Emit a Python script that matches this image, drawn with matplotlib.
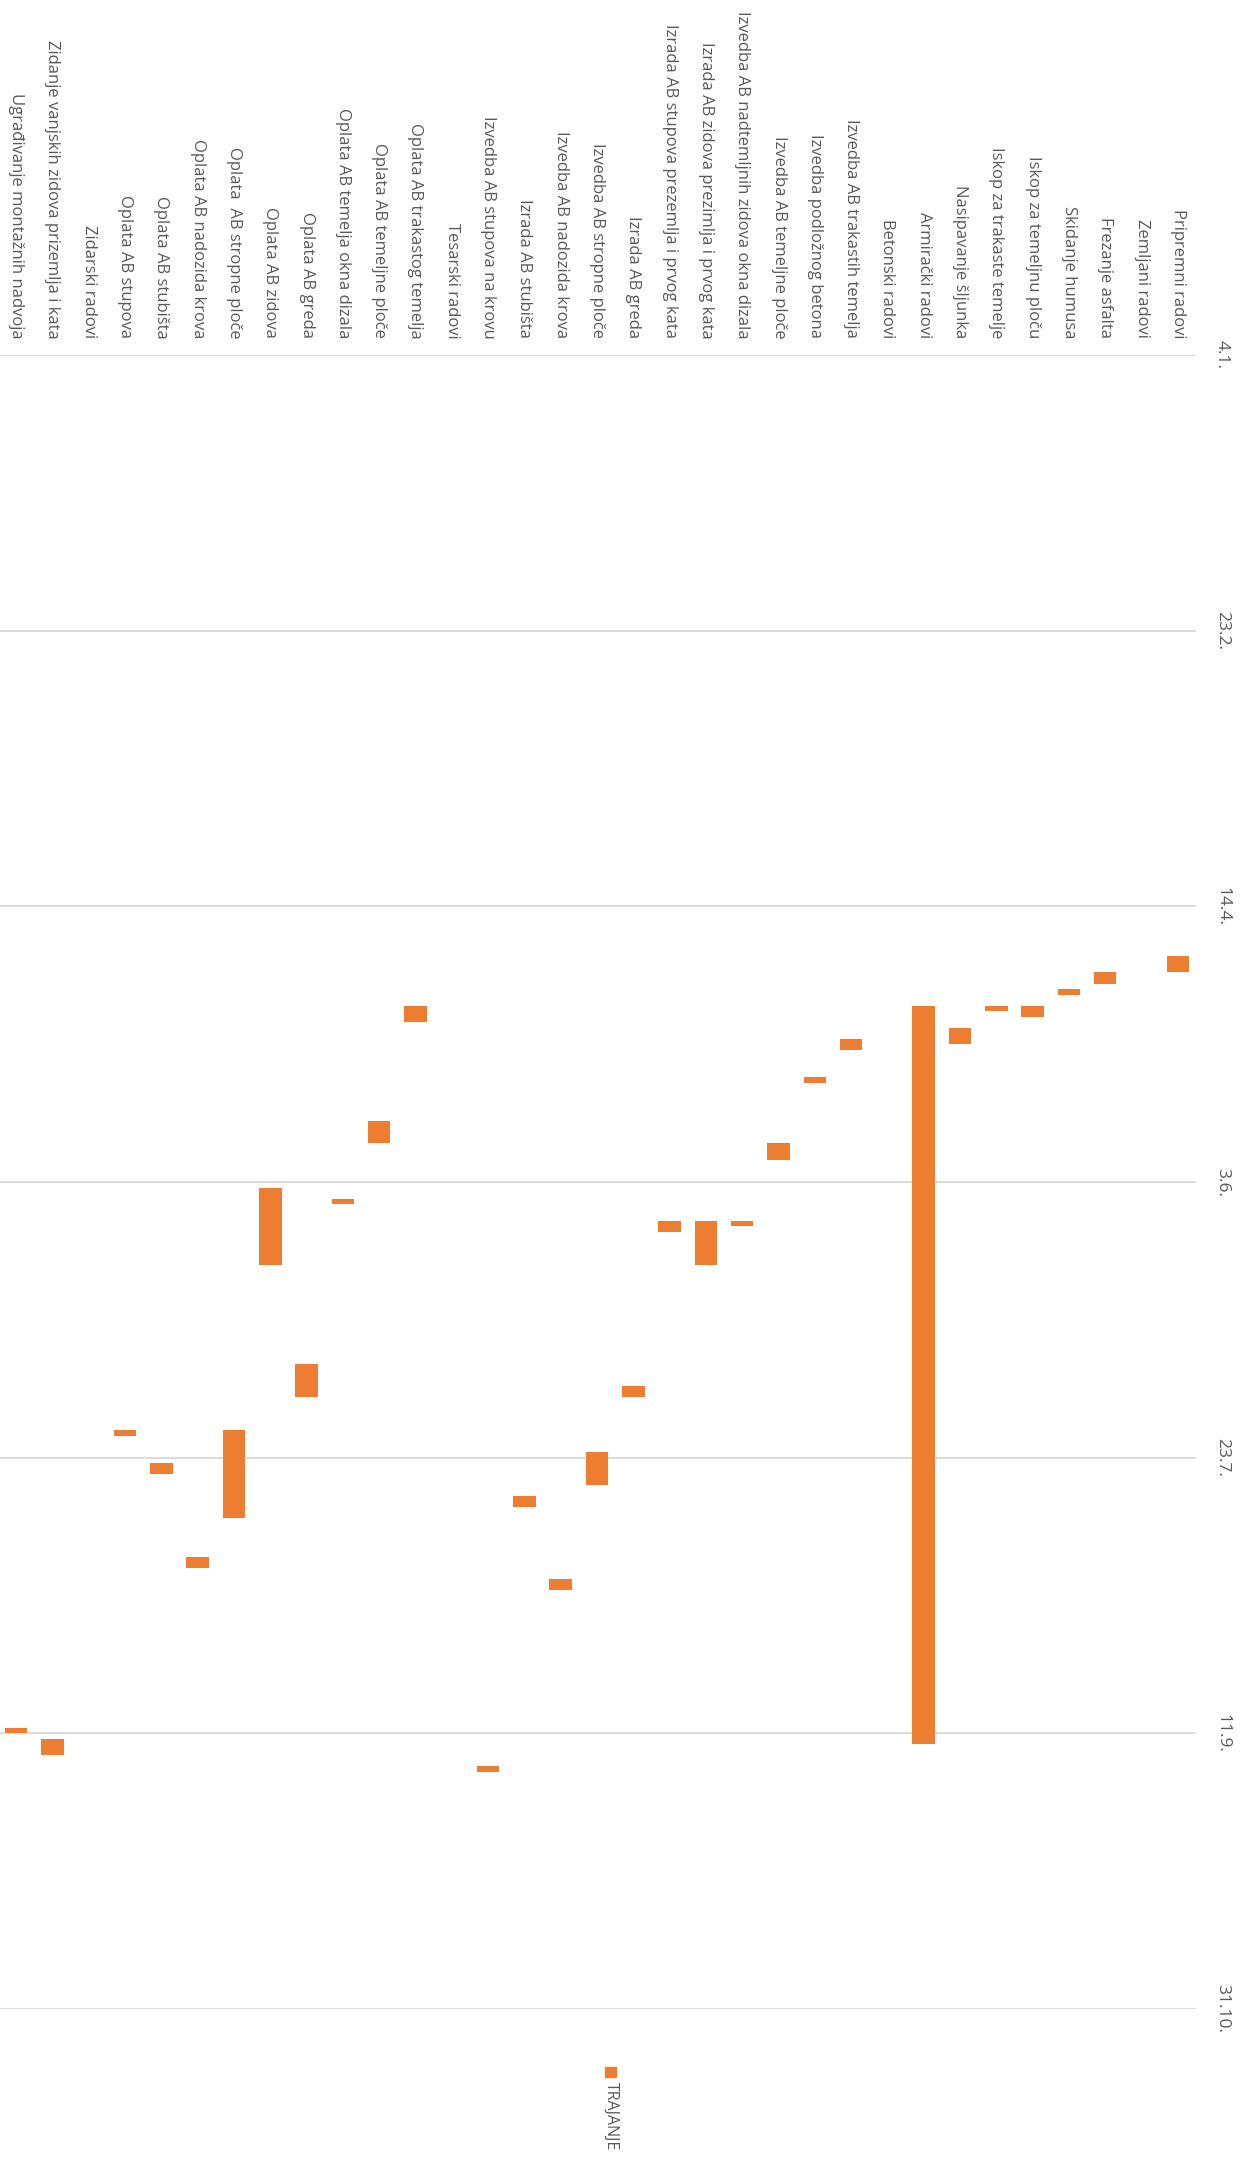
import matplotlib
matplotlib.use("Agg")
import matplotlib.pyplot as plt
import matplotlib.dates as mdates
import pandas as pd
from matplotlib.patches import Rectangle

plt.rcParams['font.family'] = ['Open Sans', 'DejaVu Sans']

# --- podaci (gantogram, redoslijed od vrha popisa) ---
aktivnosti = [
    "Pripremni radovi",
    "Zemljani radovi",
    "Frezanje asfalta",
    "Skidanje humusa",
    "Iskop za temeljnu ploču",
    "Iskop za trakaste temelje",
    "Nasipavanje šljunka",
    "Armirački radovi",
    "Betonski radovi",
    "Izvedba AB trakastih temelja",
    "Izvedba podložnog betona",
    "Izvedba AB temeljne ploče",
    "Izvedba AB nadtemljnih zidova okna dizala",
    "Izrada AB zidova prezimlja i prvog kata",
    "Izrada AB stupova prezemlja i prvog kata",
    "Izrada AB greda",
    "Izvedba AB stropne ploče",
    "Izvedba AB nadozida krova",
    "Izrada AB stubišta",
    "Izvedba AB stupova na krovu",
    "Tesarski radovi",
    "Oplata AB trakastog temelja",
    "Oplata AB temeljne ploče",
    "Oplata AB temelja okna dizala",
    "Oplata AB greda",
    "Oplata AB zidova",
    "Oplata  AB stropne ploče",
    "Oplata AB nadozida krova",
    "Oplata AB stubišta",
    "Oplata AB stupova",
    "Zidarski radovi",
    "Zidanje vanjskih zidova prizemlja i kata",
    "Ugrađivanje montažnih nadvoja",
]

pocetak = [
    "2021-04-23", None, "2021-04-26", "2021-04-29", "2021-05-02", "2021-05-02",
    "2021-05-06", "2021-05-02", None, "2021-05-08", "2021-05-15", "2021-05-27",
    "2021-06-10", "2021-06-10", "2021-06-10", "2021-07-10", "2021-07-22",
    "2021-08-14", "2021-07-30", "2021-09-17", None, "2021-05-02", "2021-05-23",
    "2021-06-06", "2021-07-06", "2021-06-04", "2021-07-18", "2021-08-10",
    "2021-07-24", "2021-07-18", None, "2021-09-12", "2021-09-10",
]

trajanje = [
    3, 0, 2, 1, 2, 1,
    3, 134, 0, 2, 1, 3,
    1, 8, 2, 2, 6,
    2, 2, 1, 0, 3, 4,
    1, 6, 14, 16, 2,
    2, 1, 0, 3, 1,
]

os_datumi = pd.date_range("2021-01-04", periods=7, freq="50D")

NARANCASTA = "#ED7D31"
SIVA = "#595959"

W, H = 1242, 2176
fig = plt.figure(figsize=(W / 100, H / 100), dpi=100)

# os u pikselima: lijevo -2, desno 1196, gore 355, dolje 2009
ax = fig.add_axes([-2 / W, (H - 2009) / H, 1198 / W, 1654 / H])

n = len(aktivnosti)
for k, (start, dur) in enumerate(zip(pocetak, trajanje)):
    if start is None:
        continue
    x = n - 1 - k
    ax.bar(x, dur, bottom=mdates.date2num(pd.Timestamp(start)),
           width=0.62, color=NARANCASTA, edgecolor="none", zorder=3)

ax.set_xlim(-0.5, n - 0.5)
ax.set_ylim(mdates.date2num(os_datumi[-1]), mdates.date2num(os_datumi[0]))

# kategorije na vrhu, tekst okrenut
ax.xaxis.tick_top()
ax.set_xticks(range(n), labels=aktivnosti[::-1], rotation=270,
              ha="center", va="bottom")
ax.tick_params(axis="x", length=0, pad=12, labelcolor=SIVA, labelsize=12)

# datumi desno
ax.yaxis.tick_right()
ax.set_yticks(mdates.date2num(os_datumi),
              labels=[f"{d.day}.{d.month}." for d in os_datumi],
              rotation=270, ha="left", va="center")
ax.tick_params(axis="y", length=0, pad=13, labelcolor=SIVA, labelsize=12.5)

ax.grid(axis="y", color="#D9D9D9", linewidth=1.3)
ax.set_axisbelow(True)
for s in ax.spines.values():
    s.set_visible(False)

# legenda
fig.patches.append(Rectangle((605 / W, 1 - 2077 / H), 11 / W, 10 / H,
                             transform=fig.transFigure, color=NARANCASTA))
fig.text(611 / W, 1 - 2082 / H, "TRAJANJE", rotation=270, ha="center",
         va="top", color=SIVA, fontsize=11.5)

fig.savefig("out.png", dpi=100)
